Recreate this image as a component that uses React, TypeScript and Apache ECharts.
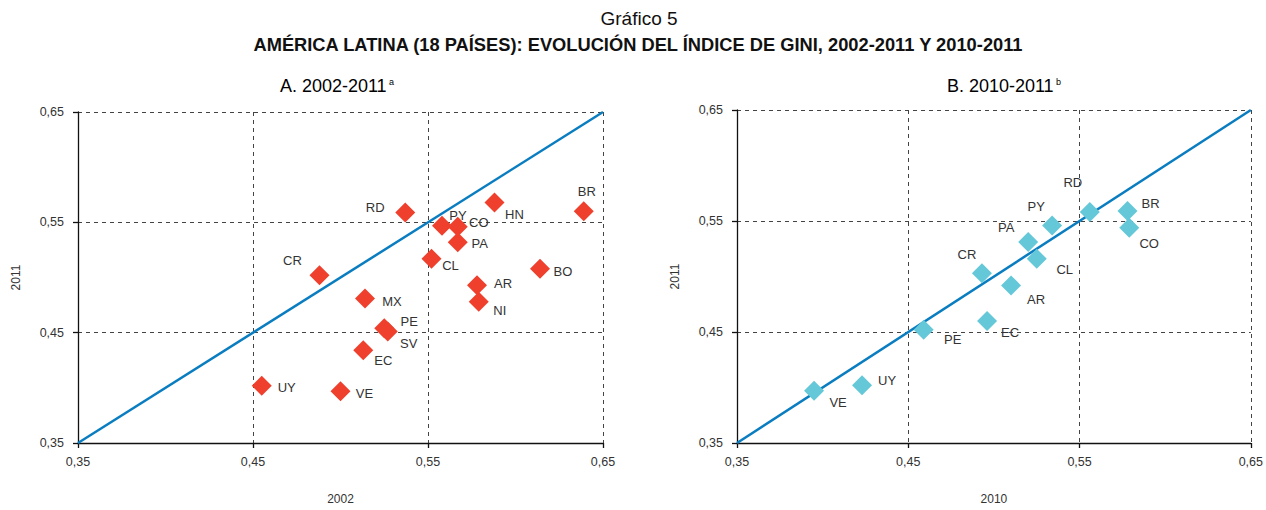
import React, { useEffect, useRef } from "react";
import * as echarts from "echarts";

// ---- Data ----
const countriesA = ["RD", "HN", "BR", "PY", "CO", "PA", "CL", "CR", "BO", "AR", "NI", "MX", "PE", "SV", "EC", "UY", "VE"];
const gini2002 = [0.537, 0.588, 0.639, 0.558, 0.567, 0.567, 0.552, 0.488, 0.614, 0.578, 0.579, 0.514, 0.525, 0.527, 0.513, 0.455, 0.500];
const gini2011A = [0.559, 0.568, 0.560, 0.547, 0.546, 0.532, 0.517, 0.502, 0.508, 0.493, 0.478, 0.481, 0.454, 0.451, 0.434, 0.402, 0.397];

const countriesB = ["RD", "BR", "CO", "PY", "PA", "CL", "CR", "AR", "EC", "PE", "UY", "VE"];
const gini2010 = [0.556, 0.578, 0.579, 0.534, 0.520, 0.525, 0.493, 0.510, 0.496, 0.459, 0.423, 0.395];
const gini2011B = [0.558, 0.559, 0.544, 0.546, 0.531, 0.516, 0.503, 0.492, 0.460, 0.452, 0.402, 0.397];

const axisTicks = [0.35, 0.45, 0.55, 0.65];
const diagonal = [[0.35, 0.35], [0.65, 0.65]];

// label placement (offset of label centre from marker centre, px)
const labelOffsetA: Record<string, [number, number]> = {
  RD: [-30, -5], HN: [20, 12], BR: [3, -20], PY: [16, -10], CO: [21, -4], PA: [22, 1],
  CL: [19, 7], CR: [-27, -15], BO: [23, 3], AR: [26, -2], NI: [21, 9], MX: [27, 3],
  PE: [25, -7], SV: [21, 12], EC: [20, 10], UY: [25, 2], VE: [24, 2],
};
const labelOffsetB: Record<string, [number, number]> = {
  RD: [-17, -30], BR: [23, -8], CO: [20, 16], PY: [-16, -19], PA: [-22, -15], CL: [28, 11],
  CR: [-15, -19], AR: [25, 14], EC: [23, 12], PE: [29, 10], UY: [25, -5], VE: [24, 12],
};

const FONT = "Liberation Sans, Arial, sans-serif";

function fmt(v: number) {
  return v.toFixed(2).replace(".", ",");
}

function makeAxis(name: string, gridIndex: number, isY: boolean) {
  return {
    type: "value",
    gridIndex,
    min: 0.35,
    max: 0.65,
    interval: 0.1,
    name,
    nameLocation: "middle",
    nameGap: isY ? 56 : 50,
    nameRotate: isY ? 90 : 0,
    nameTextStyle: { fontSize: 12, color: "#333", fontFamily: FONT },
    axisLine: { show: true, onZero: false, lineStyle: { color: "#111", width: 1.3 } },
    axisTick: { show: true, length: 5, lineStyle: { color: "#111", width: 1.3 } },
    axisLabel: {
      fontSize: 12.5,
      color: "#333",
      fontFamily: FONT,
      margin: isY ? 14 : 12,
      formatter: (v: number) => (axisTicks.some((t) => Math.abs(t - v) < 1e-6) ? fmt(v) : ""),
    },
    splitLine: { show: true, lineStyle: { color: "#444", type: [4, 4], width: 1 } },
  };
}

function makePoints(names: string[], xs: number[], ys: number[], offsets: Record<string, [number, number]>) {
  return names.map((n, i) => ({
    name: n,
    value: [xs[i], ys[i]],
    label: { offset: offsets[n] || [22, 0] },
  }));
}

export default function App() {
  const ref = useRef<HTMLDivElement>(null);
  useEffect(() => {
    document.body.style.margin = "0";
    if (!ref.current) return;
    const chart = echarts.init(ref.current, null, { renderer: "svg" });
    const labelCommon = {
      show: true,
      position: "inside",
      formatter: "{b}",
      fontSize: 13,
      color: "#333",
      fontFamily: FONT,
    };
    const subRich = {
      m: { fontSize: 18, fontFamily: FONT, color: "#222" },
      s: { fontSize: 9, fontFamily: FONT, color: "#222", verticalAlign: "top", padding: [0, 0, 9, 0] },
    };
    chart.setOption({
      animation: false,
      backgroundColor: "#fff",
      graphic: [
        {
          type: "text",
          x: 639,
          y: 18,
          style: { text: "Gráfico 5", align: "center", verticalAlign: "middle", fontSize: 19, fontFamily: FONT, fill: "#111" },
        },
        {
          type: "text",
          x: 638,
          y: 44,
          style: {
            text: "AMÉRICA LATINA (18 PAÍSES): EVOLUCIÓN DEL ÍNDICE DE GINI, 2002-2011 Y 2010-2011",
            align: "center",
            verticalAlign: "middle",
            fontSize: 18.3,
            fontWeight: "bold",
            fontFamily: FONT,
            fill: "#111",
          },
        },
        {
          type: "text",
          x: 337,
          y: 86,
          style: { text: "{m|A. 2002-2011}{s| a}", align: "center", verticalAlign: "middle", rich: subRich },
        },
        {
          type: "text",
          x: 1004,
          y: 86,
          style: { text: "{m|B. 2010-2011}{s| b}", align: "center", verticalAlign: "middle", rich: subRich },
        },
      ],
      grid: [
        { left: 78, top: 112, width: 525, height: 341 },
        { left: 737, top: 110, width: 515, height: 347 },
      ],
      xAxis: [makeAxis("2002", 0, false), makeAxis("2010", 1, false)],
      yAxis: [makeAxis("2011", 0, true), makeAxis("2011", 1, true)],
      series: [
        {
          type: "line",
          xAxisIndex: 0,
          yAxisIndex: 0,
          data: diagonal,
          symbol: "none",
          lineStyle: { color: "#0a7dc0", width: 2.5 },
          z: 2,
        },
        {
          type: "line",
          xAxisIndex: 1,
          yAxisIndex: 1,
          data: diagonal,
          symbol: "none",
          lineStyle: { color: "#0a7dc0", width: 2.5 },
          z: 2,
        },
        {
          type: "scatter",
          xAxisIndex: 0,
          yAxisIndex: 0,
          symbol: "diamond",
          symbolSize: 20,
          itemStyle: { color: "#ee402d", opacity: 1 },
          label: labelCommon,
          data: makePoints(countriesA, gini2002, gini2011A, labelOffsetA),
          z: 3,
        },
        {
          type: "scatter",
          xAxisIndex: 1,
          yAxisIndex: 1,
          symbol: "diamond",
          symbolSize: 20,
          itemStyle: { color: "#64c8d8", opacity: 1 },
          label: labelCommon,
          data: makePoints(countriesB, gini2010, gini2011B, labelOffsetB),
          z: 3,
        },
      ],
    });
    return () => chart.dispose();
  }, []);
  return <div ref={ref} style={{ width: 1266, height: 510 }} />;
}
